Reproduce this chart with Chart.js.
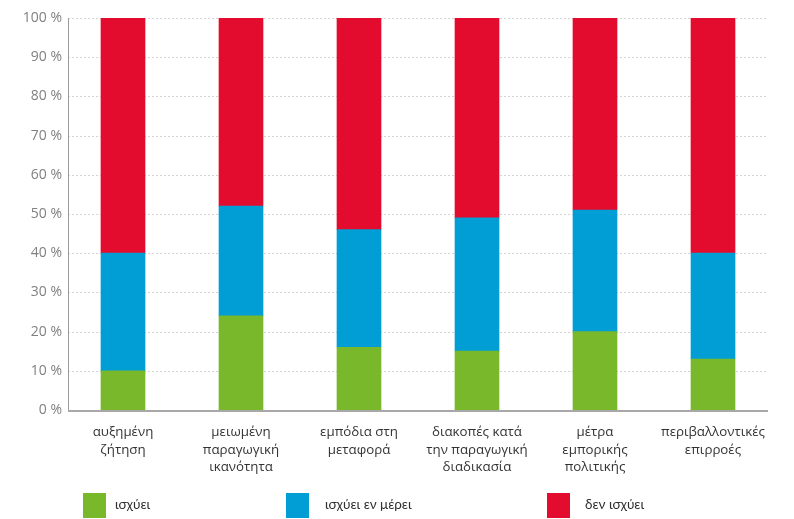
<!DOCTYPE html>
<html>
<head>
<meta charset="utf-8">
<script src="https://cdn.jsdelivr.net/npm/chart.js@4.4.1/dist/chart.umd.min.js"></script>
<style>
  html, body { margin: 0; padding: 0; background: #fff; }
  #wrap { width: 794px; height: 519px; position: relative; }
</style>
</head>
<body>
<div id="wrap"><canvas id="grafico"></canvas></div>
<script>
const categorias = [
    ['αυξημένη', 'ζήτηση'],
    ['μειωμένη', 'παραγωγική', 'ικανότητα'],
    ['εμπόδια στη', 'μεταφορά'],
    ['διακοπές κατά', 'την παραγωγική', 'διαδικασία'],
    ['μέτρα', 'εμπορικής', 'πολιτικής'],
    ['περιβαλλοντικές', 'επιρροές']
];
const ischyei = [10, 24, 16, 15, 20, 13];
const ischyeiEnMerei = [30, 28, 30, 34, 31, 27];
const denIschyei = [60, 48, 54, 51, 49, 60];
const seriesNomes = ['ισχύει', 'ισχύει εν μέρει', 'δεν ισχύει'];
const yTicks = [0, 10, 20, 30, 40, 50, 60, 70, 80, 90, 100];

const cores = ['#78b82a', '#009ed5', '#e30c2f'];

// grid, axis lines and legend drawn from the scales
const decoracao = {
    id: 'decoracao',
    beforeDatasetsDraw(chart) {
        const c = chart.ctx, y = chart.scales.y;
        const x0 = 68, x1 = 768;
        c.save();
        c.strokeStyle = '#d4d4d4';
        c.lineWidth = 1;
        c.setLineDash([2, 2]);
        yTicks.forEach(v => {
            if (v === 0) return;
            const py = Math.round(y.getPixelForValue(v)) + 0.5;
            c.beginPath(); c.moveTo(x0, py); c.lineTo(x1, py); c.stroke();
        });
        c.restore();
    },
    afterDatasetsDraw(chart) {
        const c = chart.ctx, y = chart.scales.y;
        const x0 = 68, x1 = 768;
        const top = y.getPixelForValue(100), bot = y.getPixelForValue(0);
        c.save();
        c.strokeStyle = '#9a9a9a';
        c.lineWidth = 1;
        c.beginPath(); c.moveTo(x0 + 0.5, top); c.lineTo(x0 + 0.5, bot); c.stroke();
        c.strokeStyle = '#a8a8a8';
        c.lineWidth = 2;
        c.beginPath(); c.moveTo(x0, bot + 1); c.lineTo(x1, bot + 1); c.stroke();
        c.restore();
    },
    afterDraw(chart) {
        const c = chart.ctx;
        const boxX = [83, 286, 547];
        const textX = [115, 325, 585];
        c.save();
        c.font = '13.5px Lato, "Open Sans", sans-serif';
        c.textBaseline = 'middle';
        chart.data.datasets.forEach((ds, i) => {
            c.fillStyle = ds.backgroundColor;
            c.fillRect(boxX[i], 493, 23, 25);
            c.fillStyle = '#2f2f2f';
            c.fillText(ds.label, textX[i], 505);
        });
        c.restore();
    }
};

const ctx = document.getElementById('grafico').getContext('2d');
const grafico = new Chart(ctx, {
    type: 'bar',
    data: {
        labels: categorias,
        datasets: [
            { label: seriesNomes[0], data: ischyei, backgroundColor: cores[0] },
            { label: seriesNomes[1], data: ischyeiEnMerei, backgroundColor: cores[1] },
            { label: seriesNomes[2], data: denIschyei, backgroundColor: cores[2] }
        ]
    },
    options: {
        responsive: true,
        maintainAspectRatio: false,
        animation: false,
        layout: { padding: { top: 18, right: 22, left: 0, bottom: 0 } },
        datasets: { bar: { barThickness: 44, borderWidth: 0 } },
        plugins: {
            legend: { display: false },
            tooltip: { enabled: false }
        },
        scales: {
            x: {
                stacked: true,
                grid: { display: false, drawTicks: false },
                border: { display: false },
                ticks: {
                    padding: 14,
                    color: '#333',
                    font: { family: '"Open Sans", sans-serif', size: 13.3, lineHeight: 1.3 },
                    maxRotation: 0,
                    autoSkip: false
                },
                afterFit(scale) { scale.height = 109; }
            },
            y: {
                stacked: true,
                min: 0,
                max: 100,
                afterBuildTicks(scale) { scale.ticks = yTicks.map(v => ({ value: v })); },
                grid: { display: false, drawTicks: false },
                border: { display: false },
                ticks: {
                    padding: 2,
                    color: '#808080',
                    font: { family: '"Open Sans", sans-serif', size: 14 },
                    callback: v => v + ' %'
                },
                afterFit(scale) { scale.width = 64; }
            }
        }
    },
    plugins: [decoracao]
});
</script>
</body>
</html>
